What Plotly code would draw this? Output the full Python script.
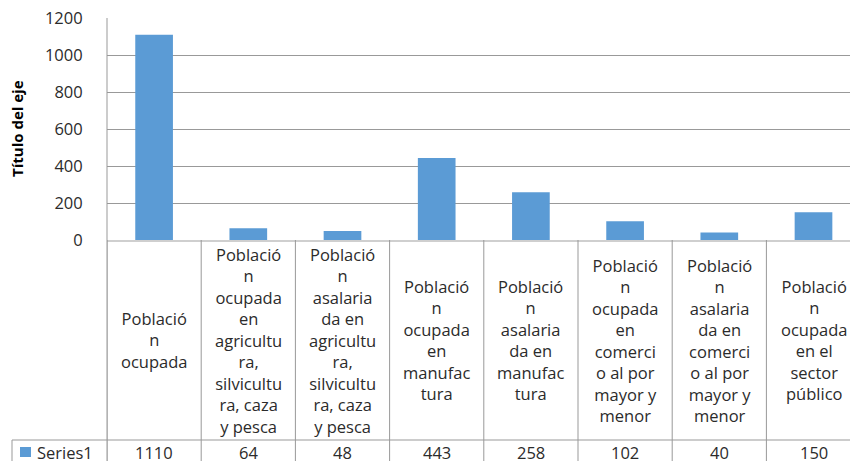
import plotly.graph_objects as go

# ---- data ----
categories = [
    "Población ocupada",
    "Población ocupada en agricultura, silvicultura, caza y pesca",
    "Población asalariada en agricultura, silvicultura, caza y pesca",
    "Población ocupada en manufactura",
    "Población asalariada en manufactura",
    "Población ocupada en comercio al por mayor y menor",
    "Población asalariada en comercio al por mayor y menor",
    "Población ocupada en el sector público",
]
# labels as wrapped in the data table of the original chart
table_labels = [
    "Població<br>n<br>ocupada",
    "Població<br>n<br>ocupada<br>en<br>agricultu<br>ra,<br>silvicultu<br>ra, caza<br>y pesca",
    "Població<br>n<br>asalaria<br>da en<br>agricultu<br>ra,<br>silvicultu<br>ra, caza<br>y pesca",
    "Població<br>n<br>ocupada<br>en<br>manufac<br>tura",
    "Població<br>n<br>asalaria<br>da en<br>manufac<br>tura",
    "Població<br>n<br>ocupada<br>en<br>comerci<br>o al por<br>mayor y<br>menor",
    "Població<br>n<br>asalaria<br>da en<br>comerci<br>o al por<br>mayor y<br>menor",
    "Població<br>n<br>ocupada<br>en el<br>sector<br>público",
]
series_name = "Series1"
values = [1110, 64, 48, 443, 258, 102, 40, 150]
y_ticks = [0, 200, 400, 600, 800, 1000, 1200]
axis_title = "Título del eje"

# ---- layout constants (pixels) ----
W, H = 850, 461
L, T = 107, 18
plot_bottom = 240
table_split = 440
cat_w = 94.2
plot_h = plot_bottom - T
plot_w = W - L

def py(pix):  # pixel y -> paper y
    return (plot_bottom - pix) / plot_h

def px(pix):  # pixel x -> paper x
    return (pix - L) / plot_w

BLUE = "#5B9BD5"
GRID = "#999999"
TXT = "#2b2b2b"
FONT = "Open Sans"
FS = 16.5

idx = list(range(len(categories)))

fig = go.Figure()
fig.add_trace(go.Bar(
    x=idx, y=values, name=series_name,
    marker=dict(color=BLUE, line=dict(width=0)),
    width=0.4,
    hovertext=categories,
))

shapes = []
annotations = []

# vertical table lines at category boundaries
for i in range(len(categories) + 1):
    b = i - 0.5
    shapes.append(dict(type="line", xref="x", yref="paper",
                       x0=b, x1=b, y0=0, y1=py(H + 5),
                       line=dict(color=GRID, width=1)))
# left border line of the plot/table
shapes.append(dict(type="line", xref="paper", yref="paper",
                   x0=0, x1=0, y0=1, y1=py(H + 5),
                   line=dict(color=GRID, width=1)))
# horizontal split line (labels / values)
shapes.append(dict(type="line", xref="paper", yref="paper",
                   x0=px(12), x1=1.01, y0=py(table_split), y1=py(table_split),
                   line=dict(color=GRID, width=1)))
# left border of the series row
shapes.append(dict(type="line", xref="paper", yref="paper",
                   x0=px(12), x1=px(12), y0=py(table_split), y1=py(H + 5),
                   line=dict(color=GRID, width=1)))
# legend key
shapes.append(dict(type="rect", xref="paper", yref="paper",
                   x0=px(20), x1=px(31), y0=py(457), y1=py(447),
                   fillcolor=BLUE, line=dict(width=0)))

label_y = py((plot_bottom + table_split) / 2)
value_y = py(452)
for i, (lab, v) in enumerate(zip(table_labels, values)):
    annotations.append(dict(xref="x", yref="paper", x=i, y=label_y,
                            text=lab, showarrow=False, xanchor="center",
                            yanchor="middle", align="center",
                            font=dict(family=FONT, size=FS, color=TXT)))
    annotations.append(dict(xref="x", yref="paper", x=i, y=value_y,
                            text=f"{v}", showarrow=False, xanchor="center",
                            yanchor="middle",
                            font=dict(family=FONT, size=FS, color=TXT)))
annotations.append(dict(xref="paper", yref="paper", x=px(35), y=value_y,
                        text=series_name, showarrow=False, xanchor="left",
                        yanchor="middle",
                        font=dict(family=FONT, size=FS, color=TXT)))
annotations.append(dict(xref="paper", yref="paper", x=px(17), y=py(129),
                        text=f"<b>{axis_title}</b>", textangle=-90,
                        showarrow=False, xanchor="center", yanchor="middle",
                        font=dict(family=FONT, size=15, color="#000000")))

span = plot_w / cat_w
fig.update_layout(
    width=W, height=H,
    margin=dict(l=L, r=0, t=T, b=H - plot_bottom, pad=0),
    paper_bgcolor="white", plot_bgcolor="white",
    showlegend=False,
    bargap=0.6,
    shapes=shapes, annotations=annotations,
    font=dict(family=FONT, color=TXT),
    xaxis=dict(range=[-0.5, -0.5 + span], showticklabels=False,
               showgrid=False, zeroline=False, ticks="",
               showline=True, linecolor="#cfcfcf", linewidth=2),
    yaxis=dict(range=[0, 1200], tickvals=y_ticks, showgrid=True,
               gridcolor=GRID, gridwidth=1, zeroline=False,
               showline=False, ticks="outside", ticklen=20,
               tickcolor="rgba(0,0,0,0)",
               tickfont=dict(family=FONT, size=FS, color=TXT)),
)

fig.write_html(
    "out.html",
    config={"displayModeBar": False},
    post_script="document.body.style.margin='0';document.body.style.overflow='hidden';",
)
